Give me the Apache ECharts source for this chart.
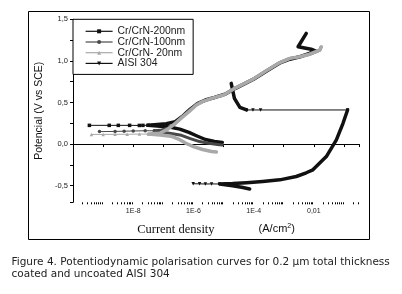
<!DOCTYPE html>
<html>
<head>
<meta charset="utf-8">
<script src="https://cdn.jsdelivr.net/npm/echarts@6/dist/echarts.min.js"></script>
<style>
html,body{margin:0;padding:0;background:#fff;}
#chart{width:402px;height:294px;}
</style>
</head>
<body>
<div id="chart"></div>
<script>
// ---- Data: [current density (A/cm2), potential (V vs SCE)] ----
const seriesNames = ['Cr/CrN-200nm', 'Cr/CrN-100nm', 'Cr/CrN- 20nm', 'AISI 304'];

// Cr/CrN-200nm
const cr200Ecorr = [[3.5e-10,0.225],[1.6e-9,0.225],[3.2e-9,0.225],[7.6e-9,0.225],[1.6e-8,0.224],[2.1e-8,0.225],[3.1e-8,0.226]];
const cr200Curve = [[9.1e-6,0.02],[5.0e-6,0.03],[2.5e-6,0.055],[1.26e-6,0.1],[7.1e-7,0.14],[3.5e-7,0.18],[1.6e-7,0.205],[6.3e-8,0.218],[3.1e-8,0.225],
  [6.3e-8,0.235],[1.26e-7,0.245],[2.5e-7,0.27],[4.5e-7,0.34],[7.9e-7,0.42],[1.41e-6,0.49],[2.5e-6,0.53],[5.0e-6,0.56],[1.12e-5,0.6],[2.5e-5,0.67],
  [1.0e-4,0.78],[2.8e-4,0.88],[7.9e-4,0.98],[1.6e-3,1.02],[3.5e-3,1.05],[7.1e-3,1.09],[1.12e-2,1.12],[8.1e-3,1.14],[3.0e-3,1.17],[5.6e-3,1.33]];

// Cr/CrN-100nm
const cr100Ecorr = [[7.6e-10,0.15],[2.5e-9,0.152],[5.0e-9,0.155],[1.0e-8,0.157],[2.5e-8,0.16],[5.0e-8,0.16]];
const cr100Curve = [[9.1e-6,-0.01],[6.3e-6,-0.005],[3.2e-6,0.01],[1.6e-6,0.03],[7.9e-7,0.065],[4.0e-7,0.105],[1.6e-7,0.13],[7.9e-8,0.145],[5.0e-8,0.16],
  [7.9e-8,0.165],[1.41e-7,0.19],[2.2e-7,0.23],[4.2e-7,0.33],[7.1e-7,0.4],[1.26e-6,0.48],[2.0e-6,0.51],[4.0e-6,0.55],[1.0e-5,0.59],[2.1e-5,0.66],
  [9.5e-5,0.78],[2.6e-4,0.88],[7.4e-4,0.98],[1.6e-3,1.03],[3.4e-3,1.05],[7.2e-3,1.08],[1.58e-2,1.13],[1.7e-2,1.16]];

// Cr/CrN- 20nm
const cr20Ecorr = [[4.1e-10,0.116],[1.0e-9,0.116],[2.5e-9,0.117],[6.3e-9,0.118],[1.6e-8,0.12],[3.2e-8,0.12]];
const cr20Curve = [[5.8e-6,-0.095],[4.0e-6,-0.09],[2.0e-6,-0.065],[1.0e-6,-0.03],[5.6e-7,0.01],[3.2e-7,0.06],[1.8e-7,0.095],[7.9e-8,0.11],[3.2e-8,0.12],
  [7.6e-8,0.13],[1.41e-7,0.18],[2.5e-7,0.25],[4.5e-7,0.33],[7.1e-7,0.39],[1.26e-6,0.47],[2.0e-6,0.51],[4.0e-6,0.55],[1.0e-5,0.59],[2.1e-5,0.66],
  [9.5e-5,0.78],[2.6e-4,0.88],[7.4e-4,0.98],[1.6e-3,1.03],[3.4e-3,1.05],[7.2e-3,1.08],[1.58e-2,1.13],[1.78e-2,1.17]];

// AISI 304
const aisiEcorr = [[9.8e-7,-0.477],[1.6e-6,-0.478],[2.5e-6,-0.48],[4.0e-6,-0.479],[7.4e-6,-0.48]];
const aisiCurve = [[7.4e-5,-0.54],[4.0e-5,-0.52],[2.0e-5,-0.5],[7.4e-6,-0.48],[2.0e-5,-0.475],[5.8e-5,-0.465],[2.0e-4,-0.45],[7.4e-4,-0.43],
  [2.6e-3,-0.39],[5.6e-3,-0.345],[9.3e-3,-0.31],[2.6e-2,-0.15],[5.6e-2,0.05],[9.3e-2,0.25],[1.32e-1,0.41]];
const aisiJump = [[1.32e-1,0.41],[1.7e-4,0.41],[9.5e-5,0.41],[5.8e-5,0.41]];
const aisiReturn = [[5.8e-5,0.41],[3.5e-5,0.44],[2.3e-5,0.55],[1.8e-5,0.73]];

// Axis tick labels
const xLabelValues = [1e-8, 1e-6, 1e-4, 1e-2];
const xLabelTexts = ['1E-8', '1E-6', '1E-4', '0,01'];
const yLabelValues = [-0.5, 0, 0.5, 1.0, 1.5];
const yLabelTexts = ['-0,5', '0,0', '0,5', '1,0', '1,5'];
const xMin = 1e-10, xMax = Math.pow(10, -0.5), yMin = -0.7, yMax = 1.5;
// minor ticks of the log axis: 2..9 times each decade
const minorTickValues = [];
for (let e = -10; e <= -1; e++) for (let m = 2; m <= 9; m++) { const v = m * Math.pow(10, e); if (v < xMax) minorTickValues.push([v, yMin]); }

const colors = {'Cr/CrN-200nm':'#111111','Cr/CrN-100nm':'#484848','Cr/CrN- 20nm':'#a9a9a9','AISI 304':'#111111'};
const symbols = {'Cr/CrN-200nm':'rect','Cr/CrN-100nm':'circle','Cr/CrN- 20nm':'triangle','AISI 304':'triangle'};
const rotations = {'AISI 304':180};

function thin(name, data, z) {
  return {
    name, type:'line', data, z,
    symbol: symbols[name], symbolSize: 3.5, symbolRotate: rotations[name] || 0,
    showSymbol: true,
    itemStyle:{color:colors[name]}, lineStyle:{color:colors[name], width:1},
    animation:false, silent:true
  };
}
function thick(name, data, z, w) {
  return {
    name, type:'line', data, z,
    symbol: symbols[name], showSymbol:false, symbolRotate: rotations[name] || 0,
    lineStyle:{color:colors[name], width:w, join:'round', cap:'round'},
    itemStyle:{color:colors[name]},
    animation:false, silent:true
  };
}

const chart = echarts.init(document.getElementById('chart'), null, {renderer:'canvas'});
const FONT = '"Liberation Sans", Arial, sans-serif';

chart.setOption({
  backgroundColor:'#ffffff',
  animation:false,
  grid:{left:73, top:19.3, right:43, bottom:91.7},
  legend:{
    data: seriesNames.map(n => ({name:n})),
    orient:'vertical', left:73, top:19.3,
    backgroundColor:'#ffffff', borderColor:'#000', borderWidth:1,
    padding:[7, 8, 6, 12],
    itemWidth:27, itemHeight:5, itemGap:0.7,
    lineStyle:{width:1.2},
    textStyle:{fontFamily:FONT, fontSize:10.4, lineHeight:10, color:'#222'},
    selectedMode:false, z:10
  },
  xAxis:{
    type:'log', logBase:10, min:xMin, max:xMax,
    axisLine:{lineStyle:{color:'#000', width:1}},
    axisTick:{show:true, length:3, lineStyle:{color:'#000'}},
    minorTick:{show:false},
    splitLine:{show:false},
    axisLabel:{
      margin:5, fontFamily:FONT, fontSize:7, color:'#222',
      formatter: v => { const i = xLabelValues.findIndex(t => Math.abs(Math.log10(t) - Math.log10(v)) < 1e-6); return i >= 0 ? xLabelTexts[i] : ''; }
    },
    name:'{a|Current density}{g|}{b|(A/cm}{s|2}{b|)}',
    nameLocation:'middle', nameGap:20,
    nameTextStyle:{
      rich:{
        a:{fontFamily:'"Liberation Serif", "Times New Roman", serif', fontSize:12.5, color:'#111'},
        g:{width:44},
        b:{fontFamily:FONT, fontSize:11, color:'#111'},
        s:{fontFamily:FONT, fontSize:7, color:'#111', verticalAlign:'top', padding:[0,0,7,0]}
      }
    }
  },
  yAxis:{
    type:'value', min:yMin, max:yMax,
    axisLine:{show:true, lineStyle:{color:'#000', width:1}},
    axisTick:{show:true, length:3, lineStyle:{color:'#000'}},
    minorTick:{show:true, splitNumber:2, length:3, lineStyle:{color:'#000'}},
    splitLine:{show:false},
    axisLabel:{
      margin:5, fontFamily:FONT, fontSize:7.5, color:'#222', showMinLabel:false,
      formatter: v => { const i = yLabelValues.findIndex(t => Math.abs(t - v) < 1e-6); return i >= 0 ? yLabelTexts[i] : ''; }
    },
    name:'Potencial (V vs SCE)', nameLocation:'middle', nameGap:21, nameRotate:90,
    nameTextStyle:{fontFamily:FONT, fontSize:10.5, color:'#111'}
  },
  series:[
    thin('AISI 304', aisiEcorr, 2),
    thick('AISI 304', aisiCurve, 2, 3.5),
    thin('AISI 304', aisiJump, 2),
    thick('AISI 304', aisiReturn, 2, 3.5),
    thin('Cr/CrN-200nm', cr200Ecorr, 3),
    thick('Cr/CrN-200nm', cr200Curve, 3, 3.5),
    thin('Cr/CrN-100nm', cr100Ecorr, 4),
    thick('Cr/CrN-100nm', cr100Curve, 4, 3),
    thin('Cr/CrN- 20nm', cr20Ecorr, 5),
    thick('Cr/CrN- 20nm', cr20Curve, 5, 3.5),
    {
      name:'minor-ticks', type:'custom', data:minorTickValues, clip:false, silent:true, z:1,
      encode:{x:0, y:1},
      renderItem:(params, api) => {
        const p = api.coord([api.value(0), api.value(1)]);
        return {type:'line', shape:{x1:Math.round(p[0])+0.5, y1:p[1], x2:Math.round(p[0])+0.5, y2:p[1]+2}, style:{stroke:'#000', lineWidth:1}};
      }
    }
  ],
  graphic:[
    {type:'rect', shape:{x:28.5, y:11.5, width:341, height:228}, style:{fill:null, stroke:'#000', lineWidth:1}, z:-1, silent:true},
    {type:'text', left:11.5, top:257, style:{text:'Figure 4. Potentiodynamic polarisation curves for 0.2 \u00b5m total thickness', font:'10.5px "DejaVu Sans", sans-serif', fill:'#222'}, silent:true},
    {type:'text', left:11.5, top:268.5, style:{text:'coated and uncoated AISI 304', font:'10.5px "DejaVu Sans", sans-serif', fill:'#222'}, silent:true}
  ]
});
</script>
</body>
</html>
